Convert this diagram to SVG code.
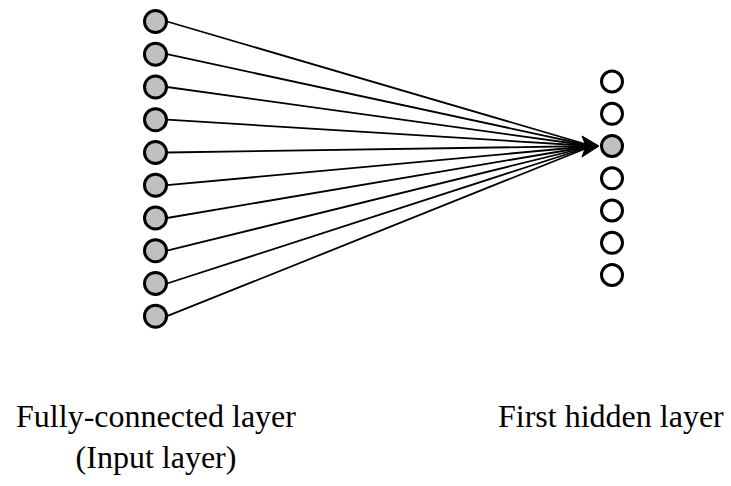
<svg xmlns="http://www.w3.org/2000/svg" width="731" height="486" viewBox="0 0 731 486">
<style>
.n{stroke:#000;stroke-width:3}
.in{fill:#c0c0c0}
.h{fill:#fff}
.e{stroke:#000;stroke-width:1.8;fill:none}
text{font-family:"Liberation Serif","Times New Roman",serif;font-size:32px;fill:#000}
</style>
<rect width="731" height="486" fill="#fff"/>
<g id="edges">
<line class="e" x1="167" y1="21.5" x2="592" y2="146"/>
<line class="e" x1="167" y1="54.2" x2="592" y2="146"/>
<line class="e" x1="167" y1="87" x2="592" y2="146"/>
<line class="e" x1="167" y1="119.7" x2="592" y2="146"/>
<line class="e" x1="167" y1="152.5" x2="592" y2="146"/>
<line class="e" x1="167" y1="185.2" x2="592" y2="146"/>
<line class="e" x1="167" y1="218" x2="592" y2="146"/>
<line class="e" x1="167" y1="250.7" x2="592" y2="146"/>
<line class="e" x1="167" y1="283.5" x2="592" y2="146"/>
<line class="e" x1="167" y1="316.2" x2="592" y2="146"/>
<path d="M582,136 L599,146 L582,157 L586,146 z" fill="#000" stroke="#000" stroke-width="1"/>
</g>
<g id="input-layer">
<circle class="n in" cx="155.5" cy="21.5" r="11"/>
<circle class="n in" cx="155.5" cy="54.2" r="11"/>
<circle class="n in" cx="155.5" cy="87" r="11"/>
<circle class="n in" cx="155.5" cy="119.7" r="11"/>
<circle class="n in" cx="155.5" cy="152.5" r="11"/>
<circle class="n in" cx="155.5" cy="185.2" r="11"/>
<circle class="n in" cx="155.5" cy="218" r="11"/>
<circle class="n in" cx="155.5" cy="250.7" r="11"/>
<circle class="n in" cx="155.5" cy="283.5" r="11"/>
<circle class="n in" cx="155.5" cy="316.2" r="11"/>
</g>
<g id="hidden-layer">
<circle class="n h" cx="612" cy="81.5" r="10.5"/>
<circle class="n h" cx="612" cy="113.8" r="10.5"/>
<circle class="n in" cx="612" cy="146" r="10.5"/>
<circle class="n h" cx="612" cy="178.3" r="10.5"/>
<circle class="n h" cx="612" cy="210.5" r="10.5"/>
<circle class="n h" cx="612" cy="242.8" r="10.5"/>
<circle class="n h" cx="612" cy="275" r="10.5"/>
</g>
<g id="labels">
<text x="156" y="427" text-anchor="middle">Fully-connected layer</text>
<text x="156" y="468" text-anchor="middle">(Input layer)</text>
<text x="498" y="427">First hidden layer</text>
</g>
</svg>
